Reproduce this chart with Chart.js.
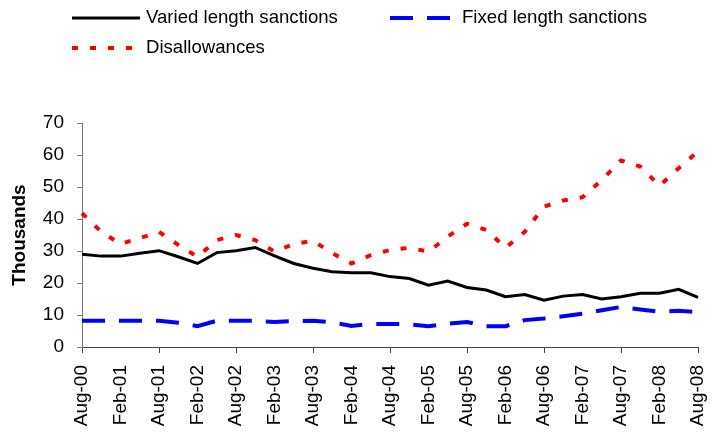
<!DOCTYPE html>
<html>
<head>
<meta charset="utf-8">
<script src="https://cdn.jsdelivr.net/npm/chart.js@4/dist/chart.umd.min.js"></script>
<style>
  html, body { margin: 0; padding: 0; background: #fff; }
  #wrap { width: 718px; height: 434px; }
</style>
</head>
<body>
<div id="wrap"><canvas id="chart"></canvas></div>
<script>
/* =====================
   DATA
===================== */
const quarters = [
  "Aug-00", "Nov-00", "Feb-01", "May-01", "Aug-01", "Nov-01", "Feb-02", "May-02",
  "Aug-02", "Nov-02", "Feb-03", "May-03", "Aug-03", "Nov-03", "Feb-04", "May-04",
  "Aug-04", "Nov-04", "Feb-05", "May-05", "Aug-05", "Nov-05", "Feb-06", "May-06",
  "Aug-06", "Nov-06", "Feb-07", "May-07", "Aug-07", "Nov-07", "Feb-08", "May-08",
  "Aug-08"
];

const variedLength = [
  29.0, 28.4, 28.4, 29.3, 30.1, 28.2, 26.1, 29.5, 30.1, 31.1, 28.5,
  26.1, 24.6, 23.5, 23.2, 23.2, 22.0, 21.4, 19.3, 20.6, 18.6, 17.8,
  15.7, 16.4, 14.6, 15.9, 16.4, 15.0, 15.7, 16.8, 16.8, 18.0, 15.5
];

const fixedLength = [
  8.2, 8.2, 8.2, 8.2, 8.2, 7.6, 6.5, 8.2, 8.2, 8.2, 7.8,
  8.1, 8.2, 7.7, 6.6, 7.2, 7.2, 7.1, 6.5, 7.3, 7.8, 6.5,
  6.5, 8.4, 8.9, 9.6, 10.4, 11.5, 12.5, 11.7, 11.0, 11.3, 10.9
];

const disallowances = [
  41.8, 36.0, 32.2, 34.0, 36.0, 31.9, 28.2, 33.4, 35.0, 33.4, 29.8,
  32.2, 33.2, 29.3, 26.1, 28.7, 30.3, 31.0, 29.8, 34.5, 38.5, 36.6,
  31.0, 36.0, 43.9, 45.8, 46.8, 52.2, 58.3, 56.4, 50.4, 55.9, 61.1
];

const seriesNames = ["Varied length sanctions", "Fixed length sanctions", "Disallowances"];

/* =====================
   LEGEND (drawn by hand, Excel style)
===================== */
const legendSpots = [
  { x: 72, y: 18, len: 68, tx: 146 },
  { x: 390, y: 18, len: 62, tx: 462 },
  { x: 72, y: 48, len: 68, tx: 146 }
];

const manualLegend = {
  id: "manualLegend",
  afterDraw(chart) {
    const ctx = chart.ctx;
    chart.data.datasets.forEach((ds, i) => {
      const s = legendSpots[i];
      ctx.save();
      ctx.strokeStyle = ds.borderColor;
      ctx.lineWidth = ds.borderWidth;
      ctx.setLineDash(ds.borderDash || []);
      ctx.beginPath();
      ctx.moveTo(s.x, s.y);
      ctx.lineTo(s.x + s.len, s.y);
      ctx.stroke();
      ctx.setLineDash([]);
      ctx.fillStyle = "#000";
      ctx.font = "18.6px 'Liberation Sans', Arial, sans-serif";
      ctx.textBaseline = "middle";
      ctx.fillText(ds.label, s.tx, s.y);
      ctx.restore();
    });
  }
};

/* =====================
   CHART
===================== */
const font = "'Liberation Sans', Arial, sans-serif";

new Chart(document.getElementById("chart"), {
  type: "line",
  data: {
    labels: quarters,
    datasets: [
      {
        label: seriesNames[0],
        data: variedLength,
        borderColor: "#000000",
        borderWidth: 3
      },
      {
        label: seriesNames[1],
        data: fixedLength,
        borderColor: "#0000ff",
        borderWidth: 4,
        borderDash: [23, 14]
      },
      {
        label: seriesNames[2],
        data: disallowances,
        borderColor: "#ff0000",
        borderWidth: 4,
        borderDash: [6, 12]
      }
    ]
  },
  options: {
    responsive: true,
    maintainAspectRatio: false,
    animation: false,
    layout: { padding: { top: 123, right: 20, bottom: 0, left: 0 } },
    elements: {
      point: { radius: 0 },
      line: { tension: 0, borderCapStyle: "butt", borderJoinStyle: "miter" }
    },
    plugins: {
      legend: { display: false },
      tooltip: { enabled: false }
    },
    scales: {
      x: {
        type: "category",
        offset: false,
        afterFit: s => {
          s.height = 87;
          s.paddingLeft = 0;
          s.paddingRight = 0;
        },
        border: { display: true, color: "#444", width: 1 },
        grid: {
          drawOnChartArea: false,
          drawTicks: true,
          tickLength: 6,
          color: c => (c.index % 2 === 0 ? "#444" : "rgba(0,0,0,0)")
        },
        ticks: {
          autoSkip: false,
          minRotation: 90,
          maxRotation: 90,
          padding: 12,
          color: "#000",
          font: { family: font, size: 19 },
          callback: function (v, i) {
            return i % 2 === 0 ? this.getLabelForValue(v) : null;
          }
        }
      },
      y: {
        min: 0,
        max: 70,
        afterFit: s => { s.width = 82; },
        border: { display: true, color: "#777", width: 1 },
        grid: {
          drawOnChartArea: false,
          drawTicks: true,
          tickLength: 5,
          color: "#777"
        },
        ticks: {
          stepSize: 10,
          padding: 13,
          color: "#000",
          font: { family: font, size: 19 }
        },
        title: {
          display: true,
          text: "Thousands",
          color: "#000",
          padding: { top: 8, bottom: 0 },
          font: { family: font, size: 19, weight: "bold" }
        }
      }
    }
  },
  plugins: [manualLegend]
});
</script>
</body>
</html>
